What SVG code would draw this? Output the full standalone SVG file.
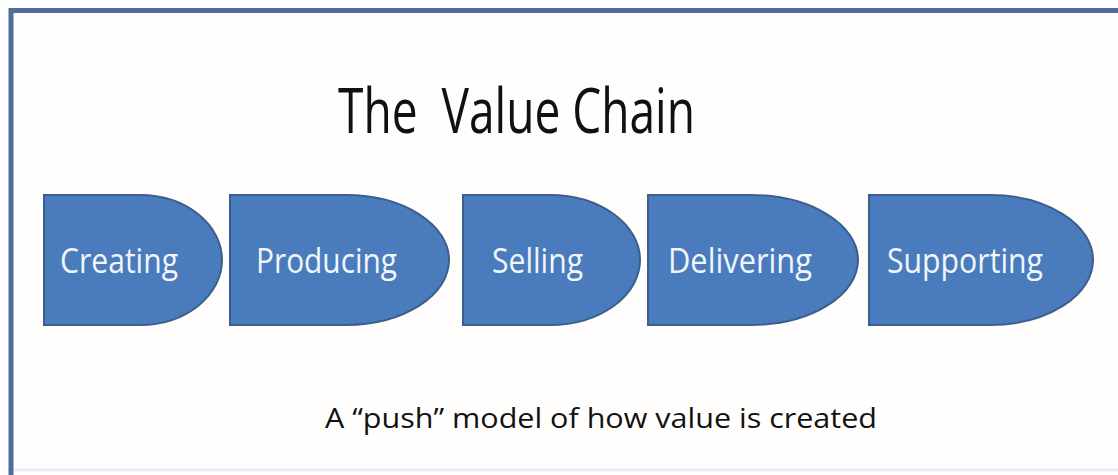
<svg xmlns="http://www.w3.org/2000/svg" width="1118" height="475" viewBox="0 0 1118 475">
<style>
.shape{fill:#4a7cbd;stroke:#3a5f8e;stroke-width:2}
.lbl{font-family:"Open Sans","Noto Sans",sans-serif;font-size:35px;fill:#f2f6fb;text-anchor:start}
.ttl{font-family:"Open Sans","Noto Sans",sans-serif;fill:#111}
</style>
<rect x="0" y="0" width="1118" height="475" fill="#ffffff"/>
<rect x="13" y="13" width="1105" height="456" fill="#fffefc"/>
<line x1="13" y1="470" x2="1118" y2="470" stroke="#e6eefc" stroke-width="3"/>
<path d="M11,475 V10.5 H1118" fill="none" stroke="#4e6d9c" stroke-width="5"/>
<text class="ttl" x="338" y="133" font-size="62" textLength="357" lengthAdjust="spacingAndGlyphs" xml:space="preserve">The  Value Chain</text>
<g id="connectors"></g>
<g id="n-creating">
<path class="shape" d="M44,195 H140 A82,65 0 0 1 140,325 H44 Z"/>
<text class="lbl" x="60" y="273" textLength="118" lengthAdjust="spacingAndGlyphs">Creating</text>
</g>
<g id="n-producing">
<path class="shape" d="M230,195 H346 A103,65 0 0 1 346,325 H230 Z"/>
<text class="lbl" x="256" y="273" textLength="141" lengthAdjust="spacingAndGlyphs">Producing</text>
</g>
<g id="n-selling">
<path class="shape" d="M463,195 H550 A90,65 0 0 1 550,325 H463 Z"/>
<text class="lbl" x="492" y="273" textLength="91" lengthAdjust="spacingAndGlyphs">Selling</text>
</g>
<g id="n-delivering">
<path class="shape" d="M648,195 H751 A107,65 0 0 1 751,325 H648 Z"/>
<text class="lbl" x="668" y="273" textLength="144" lengthAdjust="spacingAndGlyphs">Delivering</text>
</g>
<g id="n-supporting">
<path class="shape" d="M869,195 H990 A103,65 0 0 1 990,325 H869 Z"/>
<text class="lbl" x="887" y="273" textLength="156" lengthAdjust="spacingAndGlyphs">Supporting</text>
</g>
<text class="ttl" x="325" y="428" font-size="28" textLength="552" lengthAdjust="spacingAndGlyphs">A “push” model of how value is created</text>
</svg>
